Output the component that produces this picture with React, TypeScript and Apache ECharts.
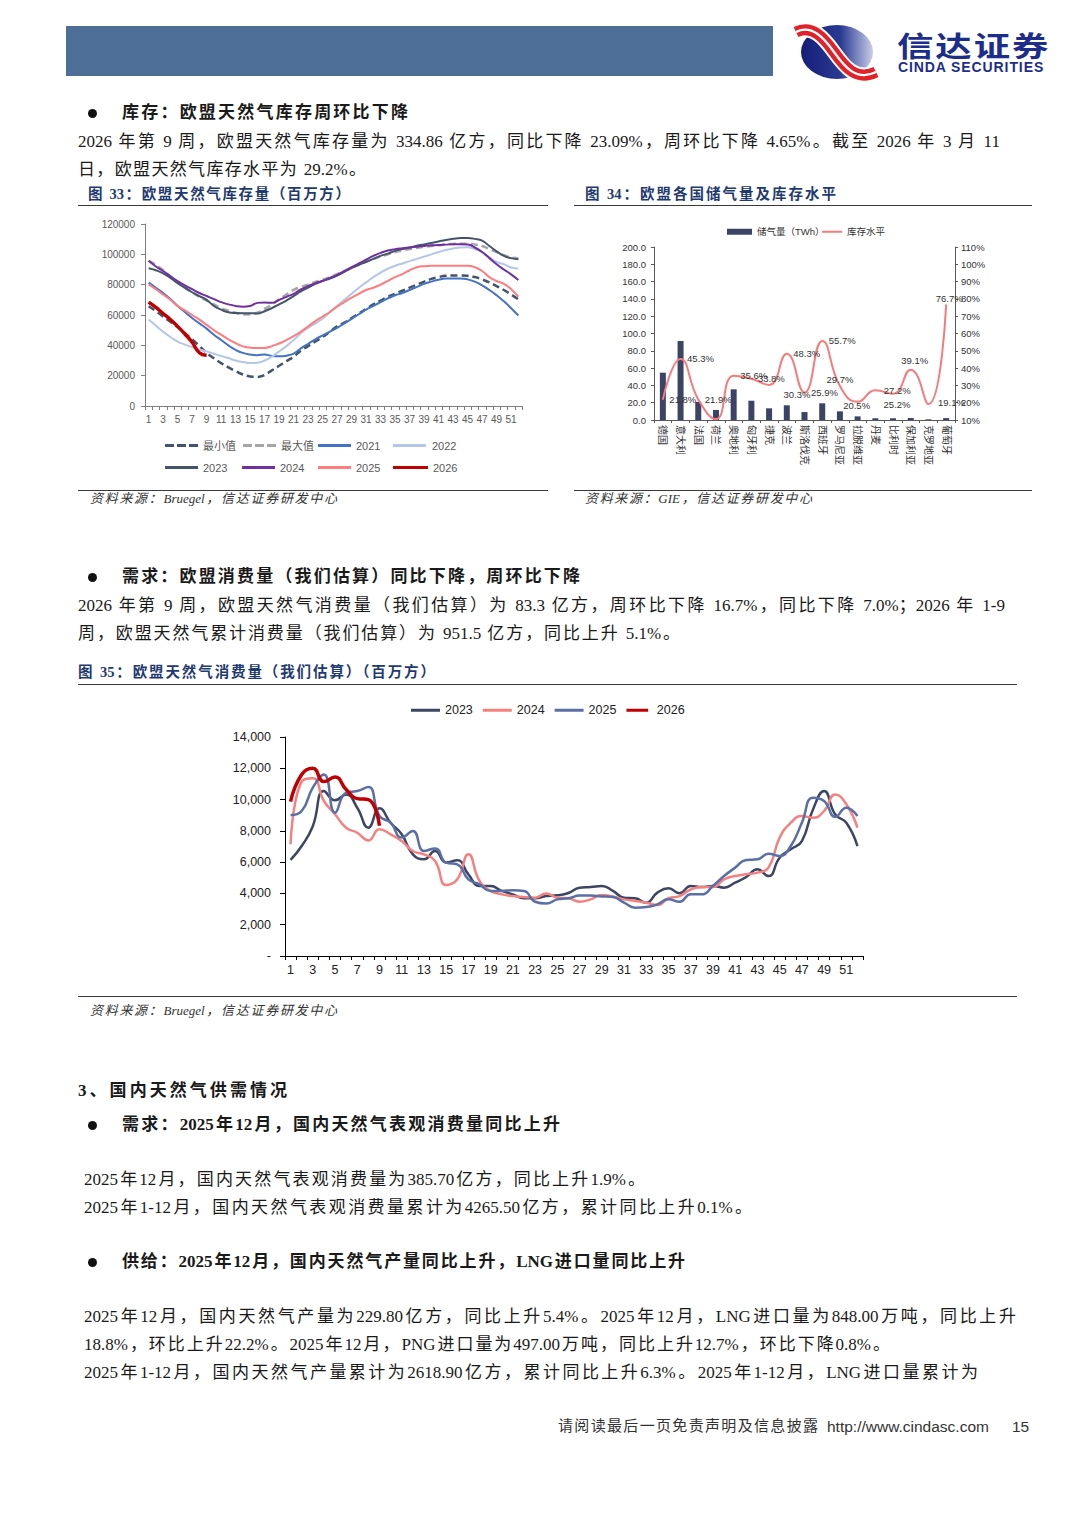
import React, { useEffect, useRef } from 'react';
import * as echarts from 'echarts';

const SERIF = '"Liberation Serif", "Noto Sans CJK SC", serif';
const SANS = '"Liberation Sans", "Noto Sans CJK SC", sans-serif';

// ---------- Figure 33 : EU storage (million m3) ----------
const weekLabels = Array.from({ length: 52 }, (_, i) => String(i + 1));

const storageMin = [65800,62500,59000,55500,52000,48000,44000,39500,35000,31500,28300,25500,23000,20800,19500,19200,20500,23500,26500,29500,32500,36500,39500,42500,45500,49000,52500,55000,58000,61000,64000,67000,69500,72000,74000,76000,78000,80000,82000,83800,85000,85800,86000,86000,85800,85000,83500,81500,79000,76500,73500,70300];
const storageMax = [95700,93000,89500,85500,81500,78000,75000,72000,69500,67000,64500,63000,61500,60300,60500,61500,64000,67000,70300,73500,76500,78500,80000,81800,83300,85000,87000,89000,91000,93000,95000,97000,98500,100000,101500,102500,103500,104300,105000,105500,106000,106500,106800,107000,107000,106500,105500,103500,101500,99500,98000,97500];
const storage2021 = [81300,78000,74500,70500,66000,62000,58000,54500,51000,47000,43500,40000,37000,35000,34000,33500,34000,33000,32800,33200,34500,38000,41000,44000,46500,49000,51500,54500,57500,60500,63500,66000,68500,71000,73000,74500,76500,78500,80500,82000,83300,84000,84000,84000,83500,82000,79500,76500,73000,69000,64500,59700];
const storage2022 = [57000,53000,49000,45500,42500,40500,38800,37300,36000,34500,33000,31600,30000,29000,28300,28500,30000,32500,36000,39500,43500,48000,51500,54500,57500,62000,66000,70000,74000,78000,81500,85000,88000,90500,92500,94000,95500,97000,98500,100000,101500,102800,103800,104500,104600,103500,101500,98000,95000,93500,91300,90600];
const storage2023 = [90800,89500,87500,84500,81000,78000,75000,72500,70000,66000,63500,61800,61300,61200,61200,61000,62500,64500,67000,69500,72500,75500,78000,80500,82400,84000,86000,88500,91000,93000,95000,97000,99000,100500,102300,103500,104500,105600,106500,107500,108500,109500,110200,110700,110700,110200,109000,105500,102000,99000,97500,96800];
const storage2024 = [95700,92000,89000,85500,82400,79500,77000,74500,72500,70500,68500,67000,66000,65500,66000,68000,68300,68000,70000,72000,74000,76900,79000,81000,82500,84500,86500,89000,91500,94000,96500,99000,101000,102500,103400,104000,104500,105000,105500,106000,106100,106400,106700,106700,106500,104500,101500,97500,93500,90000,86800,83000];
const storage2025 = [80200,77000,73500,70000,66000,63000,60000,57000,53500,50000,47000,44000,41500,39300,38500,38200,38300,39500,41200,43500,46000,49000,52500,56000,59000,62000,65500,68500,71500,74000,76500,78000,80000,82500,85000,87000,89500,91500,92200,92400,92400,92400,92400,92400,92400,91500,89000,85000,82400,80500,77000,72100];
const storage2026 = [68500,65000,61000,57000,52500,47500,42000,35100,33486];

// ---------- Figure 34 : storage by country ----------
const countries = ['德国','意大利','法国','荷兰','奥地利','匈牙利','捷克','波兰','斯洛伐克','西班牙','罗马尼亚','拉脱维亚','丹麦','比利时','保加利亚','克罗地亚','葡萄牙'];
const storageTWh = [54.7, 91.3, 21.0, 11.6, 35.5, 22.3, 13.5, 17.0, 9.2, 19.3, 10.0, 4.2, 2.0, 2.0, 2.3, 0.8, 2.2];
const fillLevel = [21.8, 45.3, 21.9, 10.5, 35.6, 33.8, 30.3, 48.3, 25.9, 55.7, 29.7, 20.5, 27.2, 25.2, 39.1, 19.1, 76.7];

// ---------- Figure 35 : EU consumption (million m3) ----------
const cons2023 = [6140,7030,8300,10550,9950,10330,9480,8200,9440,8520,7780,6500,6180,6710,5970,6120,5220,4480,4480,4160,3940,3690,3690,3830,3880,4030,4370,4410,4480,4160,3730,3690,3410,4050,4330,4010,4480,4410,4480,4370,4690,5050,5540,5110,6280,6820,7350,9370,10540,9050,8520,7030];
const cons2024 = [7140,11150,11360,9910,9060,8200,7880,7390,8100,7780,7350,6710,6500,6070,4540,4900,6500,4800,4160,3940,3830,3770,3730,3990,3730,3690,3470,3620,3900,3810,3620,3520,3410,3260,3690,3830,4250,4410,4410,4900,5110,5220,5330,5650,7560,8520,8950,8840,9270,10330,9700,8200];
const cons2025 = [9010,9270,10760,11610,9160,10440,10550,10800,8950,8520,7570,7990,6710,6880,5970,5860,4900,4580,4160,4160,4200,4160,3470,3350,3620,3690,3860,3860,3810,3770,3410,3090,3130,3300,3620,3470,3940,3940,4480,5110,5650,6140,6180,6540,6390,7030,8520,10120,9910,8890,9480,8950];
const cons2026 = [9866,11600,12000,11150,11440,10650,10060,10000,8330];

const DASH_ICON = 'path://M0 0h9v3H0z M12 0h9v3h-9z M24 0h9v3h-9z';
const SOLID_ICON = 'path://M0 0h33v3H0z';

// ---------- options ----------
function buildOption33() {
  const defs = [
    { name: '最小值', data: storageMin, color: '#44546A', width: 2.5, dashed: true },
    { name: '最大值', data: storageMax, color: '#A6A6A6', width: 2.5, dashed: true },
    { name: '2021', data: storage2021, color: '#4472C4', width: 2 },
    { name: '2022', data: storage2022, color: '#B4C7E7', width: 2 },
    { name: '2023', data: storage2023, color: '#44546A', width: 2 },
    { name: '2024', data: storage2024, color: '#7030A0', width: 2 },
    { name: '2025', data: storage2025, color: '#FF7C80', width: 2 },
    { name: '2026', data: storage2026, color: '#C00000', width: 3.5 },
  ];
  const legendPos = [[87, 234], [165, 234], [240, 234], [315, 234], [87, 256], [164, 256], [240, 256], [315, 256]];
  return {
    animation: false,
    textStyle: { fontFamily: SANS },
    grid: { left: 67, right: 26, top: 18, bottom: 83 },
    legend: defs.map((d, i) => ({
      data: [{ name: d.name, icon: d.dashed ? DASH_ICON : SOLID_ICON }],
      left: legendPos[i][0], top: legendPos[i][1], padding: 0,
      itemWidth: d.name === '2026' || d.name === '2022' ? 35 : 33, itemHeight: d.name === '2026' ? 4 : 3, selectedMode: false,
      textStyle: { fontSize: 11, color: '#595959' },
    })),
    xAxis: {
      type: 'category', data: weekLabels, boundaryGap: true,
      axisLine: { lineStyle: { color: '#7F7F7F' } },
      axisTick: { show: true, interval: 0, length: 4, lineStyle: { color: '#7F7F7F' } },
      axisLabel: { interval: 1, fontSize: 10, color: '#595959', margin: 8 },
    },
    yAxis: {
      type: 'value', min: 0, max: 120000, interval: 20000,
      splitLine: { show: false },
      axisLine: { show: true, lineStyle: { color: '#7F7F7F' } },
      axisTick: { show: true, length: 4, lineStyle: { color: '#7F7F7F' } },
      axisLabel: { fontSize: 10, color: '#595959', margin: 10, formatter: (v: number) => String(v) },
    },
    series: defs.map((d) => ({
      type: 'line', name: d.name, data: d.data, smooth: true, symbol: 'none',
      lineStyle: { color: d.color, width: d.width, type: d.dashed ? [7, 4] : 'solid' },
      itemStyle: { color: d.color },
    })),
  };
}

function buildOption34() {
  const lab: any[] = [
    { position: 'right' }, { position: 'right' }, { position: 'right' }, { show: false },
    { position: 'right' }, { position: 'right' }, { position: 'right', offset: [8, 10] }, { position: 'right' },
    { position: 'right' }, { position: 'right' }, { position: 'inside', offset: [0, -6] }, { position: 'inside', offset: [-1, 4] },
    { position: 'right', offset: [2, 0] }, { position: 'inside', offset: [4, 11] }, { position: 'inside', offset: [4, -9] },
    { position: 'right', offset: [3, -2] }, { position: 'inside', offset: [3, -6] },
  ];
  const axisCol = '#595959';
  return {
    animation: false,
    textStyle: { fontFamily: SANS },
    grid: { left: 80, right: 77, top: 41, bottom: 69 },
    legend: [
      { data: ['储气量（TWh）'], left: 153, top: 21, padding: 0, itemWidth: 25, itemHeight: 6, icon: 'rect', selectedMode: false, textStyle: { fontSize: 9.5, color: '#333' } },
      { data: [{ name: '库存水平', icon: 'path://M0 0h20v2H0z' }], left: 248, top: 21, padding: 0, itemWidth: 20, itemHeight: 2, selectedMode: false, textStyle: { fontSize: 9.5, color: '#333' } },
    ],
    xAxis: {
      type: 'category', data: countries,
      axisLine: { lineStyle: { color: axisCol } },
      axisTick: { show: true, length: 3, lineStyle: { color: axisCol } },
      axisLabel: { rotate: -90, interval: 0, fontSize: 10, color: '#333', margin: 5 },
    },
    yAxis: [
      {
        type: 'value', min: 0, max: 200, interval: 20, position: 'left',
        splitLine: { show: false },
        axisLine: { show: true, lineStyle: { color: axisCol } },
        axisTick: { show: true, length: 3, lineStyle: { color: axisCol } },
        axisLabel: { formatter: (v: number) => v.toFixed(1), fontSize: 9.5, color: '#333', margin: 8 },
      },
      {
        type: 'value', min: 10, max: 110, interval: 10, position: 'right',
        splitLine: { show: false },
        axisLine: { show: true, lineStyle: { color: axisCol } },
        axisTick: { show: true, length: 3, lineStyle: { color: axisCol } },
        axisLabel: { formatter: '{value}%', fontSize: 9.5, color: '#333', margin: 6 },
      },
    ],
    series: [
      { type: 'bar', name: '储气量（TWh）', data: storageTWh, barWidth: 6, itemStyle: { color: '#3B4466' } },
      {
        type: 'line', name: '库存水平', yAxisIndex: 1, smooth: true,
        symbol: 'circle', symbolSize: 1, showSymbol: true,
        data: fillLevel.map((v, i) => ({ value: v, label: lab[i] })),
        itemStyle: { color: '#F47C7C' },
        lineStyle: { color: '#F47C7C', width: 2 },
        label: {
          show: true, position: 'right', distance: 6, fontSize: 9.5, color: '#333',
          formatter: (p: any) => Number(p.value).toFixed(1) + '%',
        },
      },
    ],
  };
}

function buildOption35() {
  const defs = [
    { name: '2023', data: cons2023, color: '#3B4662', width: 2.5 },
    { name: '2024', data: cons2024, color: '#F4817F', width: 2.5 },
    { name: '2025', data: cons2025, color: '#5A6FA6', width: 2.5 },
    { name: '2026', data: cons2026, color: '#C00000', width: 3.5 },
  ];
  return {
    animation: false,
    textStyle: { fontFamily: SANS },
    grid: { left: 207, right: 154, top: 52, bottom: 39 },
    legend: {
      data: defs.map((d) => ({ name: d.name, icon: d.name === '2026' ? 'path://M0 0h29v4H0z' : 'path://M0 0h29v3H0z' })),
      left: 333, top: 19, padding: 0,
      itemWidth: 29, itemHeight: 3, itemGap: 10, selectedMode: false,
      textStyle: { fontSize: 12.5, color: '#222' },
    },
    xAxis: {
      type: 'category', data: weekLabels, boundaryGap: true,
      axisLine: { lineStyle: { color: '#000' } },
      axisTick: { show: true, interval: 0, length: 4, lineStyle: { color: '#000' } },
      axisLabel: { interval: 1, fontSize: 12.5, color: '#222', margin: 8 },
    },
    yAxis: {
      type: 'value', min: 0, max: 14000, interval: 2000,
      splitLine: { show: false },
      axisLine: { show: true, lineStyle: { color: '#000' } },
      axisTick: { show: true, length: 5, lineStyle: { color: '#000' } },
      axisLabel: {
        fontSize: 12.5, color: '#222', margin: 14,
        formatter: (v: number) => (v === 0 ? '-' : v.toLocaleString('en-US')),
      },
    },
    series: defs.map((d) => ({
      type: 'line', name: d.name, data: d.data, smooth: true, symbol: 'none',
      lineStyle: { color: d.color, width: d.width }, itemStyle: { color: d.color },
    })),
  };
}

function EChart({ option, style }: { option: any; style: React.CSSProperties }) {
  const ref = useRef<HTMLDivElement>(null);
  useEffect(() => {
    if (!ref.current) return;
    const chart = echarts.init(ref.current, null, { renderer: 'svg' });
    chart.setOption(option);
    return () => chart.dispose();
  }, []);
  return <div ref={ref} style={style} />;
}

type TProps = {
  x: number; y: number; w?: number; size?: number; bold?: boolean; italic?: boolean;
  color?: string; family?: string; children: React.ReactNode;
};
function T({ x, y, w, size = 17, bold = false, italic = false, color = '#1a1a1a', family = SERIF, children }: TProps) {
  const lh = Math.round(size * 1.5);
  return (
    <div
      style={{
        position: 'absolute', left: x, top: y - lh / 2, width: w, height: lh, lineHeight: `${lh}px`,
        fontSize: size, fontWeight: bold ? 700 : 400, fontStyle: italic ? 'italic' : 'normal',
        color, fontFamily: family, whiteSpace: w ? 'normal' : 'nowrap',
        textAlign: w ? 'justify' : 'left', textAlignLast: w ? 'justify' : 'auto',
      } as React.CSSProperties}
    >
      {children}
    </div>
  );
}

const Rule = ({ x1, x2, y }: { x1: number; x2: number; y: number }) => (
  <div style={{ position: 'absolute', left: x1, top: y, width: x2 - x1, height: 1, background: '#3a3a3a', zIndex: 5 }} />
);
const Bullet = ({ y }: { y: number }) => (
  <div style={{ position: 'absolute', left: 88, top: y - 4.5, width: 9, height: 9, borderRadius: '50%', background: '#111' }} />
);

export default function App() {
  useEffect(() => {
    document.body.style.margin = '0';
  }, []);
  const capColor = '#1F3A70';
  return (
    <div style={{ position: 'absolute', left: 0, top: 0, width: 1080, height: 1527, background: '#fff', overflow: 'hidden' }}>
      {/* header */}
      <div style={{ position: 'absolute', left: 66, top: 26, width: 707, height: 50, background: '#4D6F97' }} />
      <svg style={{ position: 'absolute', left: 790, top: 22 }} width={92} height={60} viewBox="0 0 92 60">
        <defs>
          <linearGradient id="lg" x1="0" y1="0" x2="1" y2="0">
            <stop offset="0%" stopColor="#141E78" />
            <stop offset="55%" stopColor="#2A3A92" />
            <stop offset="100%" stopColor="#C9CEE8" />
          </linearGradient>
        </defs>
        <ellipse cx={47} cy={30} rx={36} ry={27} fill="url(#lg)" />
        <path d="M6 10 C22 2, 34 16, 44 30 S66 60, 86 50" stroke="#fff" strokeWidth={15} fill="none" />
        <path d="M6 10 C22 2, 34 16, 44 30 S66 60, 86 50" stroke="#E0232B" strokeWidth={11} fill="none" />
        <path d="M6 10 C22 2, 34 16, 44 30 S66 60, 86 50" stroke="#fff" strokeWidth={2.2} fill="none" />
      </svg>
      <div style={{ position: 'absolute', left: 897, top: 31, fontSize: 28, lineHeight: '28px', height: 28, fontWeight: 700, letterSpacing: 1.5, color: '#1D2D8C', fontFamily: '"Noto Sans CJK SC", sans-serif', whiteSpace: 'nowrap', transform: 'scaleX(1.3)', transformOrigin: 'left center' }}>信达证券</div>
      <div style={{ position: 'absolute', left: 898, top: 60, fontSize: 14, lineHeight: '14px', height: 14, fontWeight: 700, letterSpacing: 0.9, color: '#1D2D8C', fontFamily: '"Liberation Sans", sans-serif', whiteSpace: 'nowrap' }}>CINDA SECURITIES</div>

      {/* section 1 */}
      <Bullet y={113} />
      <T x={122} y={113} w={286} bold>库存：欧盟天然气库存周环比下降</T>
      <T x={78} y={142} w={922}>2026 年第 9 周，欧盟天然气库存量为 334.86 亿方，同比下降 23.09%，周环比下降 4.65%。截至 2026 年 3 月 11</T>
      <T x={78} y={170} w={288}>日，欧盟天然气库存水平为 29.2%。</T>
      <T x={88} y={194} w={262} size={14.5} bold color={capColor}>图 33：欧盟天然气库存量（百万方）</T>
      <T x={585} y={194} w={251} size={14.5} bold color={capColor}>图 34：欧盟各国储气量及库存水平</T>

      <EChart option={buildOption33()} style={{ position: 'absolute', left: 78, top: 206, width: 470, height: 283 }} />
      <EChart option={buildOption34()} style={{ position: 'absolute', left: 574, top: 206, width: 458, height: 283 }} />
      <Rule x1={78} x2={548} y={205} />
      <Rule x1={574} x2={1032} y={205} />
      <Rule x1={78} x2={548} y={490} />
      <Rule x1={574} x2={1032} y={490} />
      <T x={90} y={499} w={247} size={13} italic color="#333">资料来源：Bruegel，信达证券研发中心</T>
      <T x={585} y={499} w={227} size={13} italic color="#333">资料来源：GIE，信达证券研发中心</T>

      {/* section 2 */}
      <Bullet y={577} />
      <T x={122} y={577} w={458} bold>需求：欧盟消费量（我们估算）同比下降，周环比下降</T>
      <T x={78} y={606} w={927}>2026 年第 9 周，欧盟天然气消费量（我们估算）为 83.3 亿方，周环比下降 16.7%，同比下降 7.0%；2026 年 1-9</T>
      <T x={78} y={634} w={602}>周，欧盟天然气累计消费量（我们估算）为 951.5 亿方，同比上升 5.1%。</T>
      <T x={78} y={672} w={357} size={14.5} bold color={capColor}>图 35：欧盟天然气消费量（我们估算）（百万方）</T>
      <EChart option={buildOption35()} style={{ position: 'absolute', left: 78, top: 685, width: 939, height: 310 }} />
      <Rule x1={78} x2={1017} y={684} />
      <Rule x1={78} x2={1017} y={996} />
      <T x={90} y={1011} w={247} size={13} italic color="#333">资料来源：Bruegel，信达证券研发中心</T>

      {/* section 3 */}
      <T x={78} y={1091} w={209} bold>3、国内天然气供需情况</T>
      <Bullet y={1125} />
      <T x={122} y={1125} w={438} bold>需求：2025年12月，国内天然气表观消费量同比上升</T>
      <T x={84} y={1180} w={561}>2025年12月，国内天然气表观消费量为385.70亿方，同比上升1.9%。</T>
      <T x={84} y={1208} w={668}>2025年1-12月，国内天然气表观消费量累计为4265.50亿方，累计同比上升0.1%。</T>
      <Bullet y={1262} />
      <T x={122} y={1262} w={563} bold>供给：2025年12月，国内天然气产量同比上升，LNG进口量同比上升</T>
      <T x={84} y={1317} w={932}>2025年12月，国内天然气产量为229.80亿方，同比上升5.4%。2025年12月，LNG进口量为848.00万吨，同比上升</T>
      <T x={84} y={1345} w={806}>18.8%，环比上升22.2%。2025年12月，PNG进口量为497.00万吨，同比上升12.7%，环比下降0.8%。</T>
      <T x={84} y={1373} w={894}>2025年1-12月，国内天然气产量累计为2618.90亿方，累计同比上升6.3%。2025年1-12月，LNG进口量累计为</T>

      {/* footer */}
      <T x={558} y={1426} w={260} size={15} color="#333">请阅读最后一页免责声明及信息披露</T>
      <T x={827} y={1426} size={15.5} color="#333" family={SANS}>http://www.cindasc.com</T>
      <T x={1012} y={1426} size={15.5} color="#333" family={SANS}>15</T>
    </div>
  );
}
